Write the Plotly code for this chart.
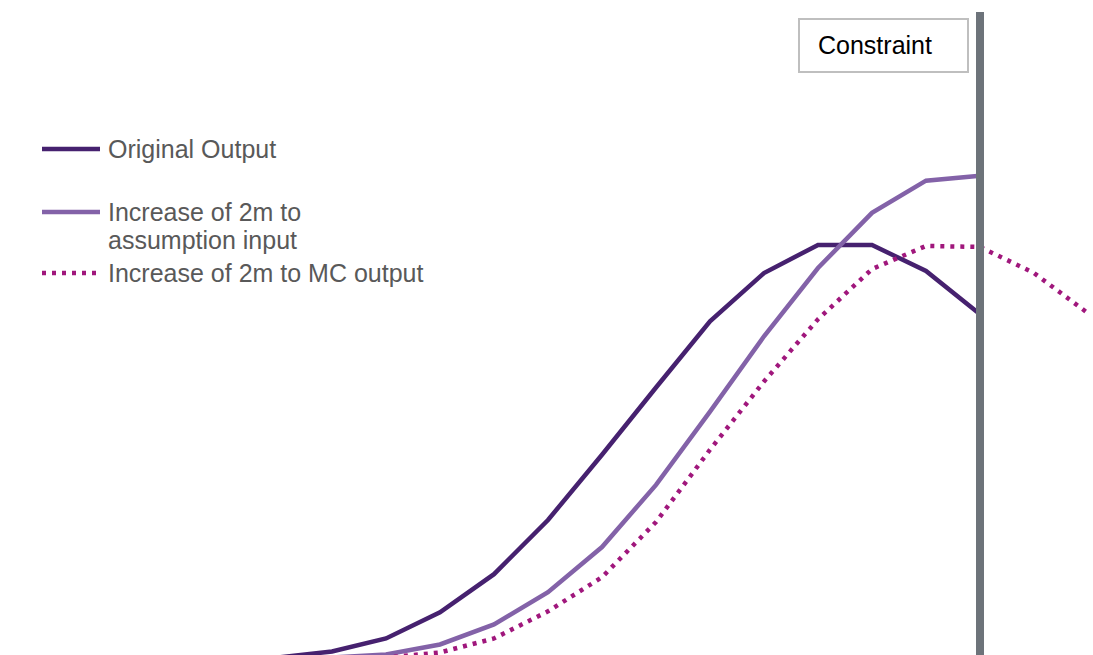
import plotly.graph_objects as go

# Periods along the horizontal axis (unlabelled)
periods = list(range(0, 17))

# Series values (output level per period)
original_output = [0, 0, 1.2, 3.8, 9.0, 16.6, 27.4, 40.4, 53.8, 67.0, 76.6, 82.2, 82.2, 77.0, 68.4]
assumption_input = [0, 0, 0, 0.6, 2.6, 6.6, 13.0, 22.0, 34.4, 49.0, 64.0, 77.6, 88.6, 95.0, 96.0]
mc_output = [0, 0, 0, 0, 1.0, 3.8, 9.2, 16.0, 27.0, 41.4, 55.0, 67.4, 77.4, 82.0, 81.8, 76.6, 68.6]

constraint_period = 14

labels = ["Original Output", "Increase of 2m to<br>assumption input", "Increase of 2m to MC output"]
colors = ["#46216F", "#8362A8", "#A0177C"]

W, H = 1093, 655
FONT = "Liberation Sans, Arial, sans-serif"
LW = 4.5
DOTS = "4px,6px"

fig = go.Figure()
fig.add_trace(go.Scatter(x=periods[:len(original_output)], y=original_output, mode="lines",
                         line=dict(color=colors[0], width=LW), name=labels[0]))
fig.add_trace(go.Scatter(x=periods[:len(assumption_input)], y=assumption_input, mode="lines",
                         line=dict(color=colors[1], width=LW), name=labels[1]))
fig.add_trace(go.Scatter(x=periods[:len(mc_output)], y=mc_output, mode="lines",
                         line=dict(color=colors[2], width=LW, dash=DOTS), name=labels[2]))

# Constraint marker
fig.add_shape(type="line", xref="x", yref="paper", x0=constraint_period, x1=constraint_period,
              y0=0, y1=1 - 12 / H, line=dict(color="#6D737A", width=8))
fig.add_shape(type="rect", xref="paper", yref="paper", x0=799 / W, x1=968 / W,
              y0=1 - 72 / H, y1=1 - 19 / H, line=dict(color="#BFBFBF", width=2),
              fillcolor="white")
fig.add_annotation(xref="paper", yref="paper", x=816 / W, y=1 - 45 / H,
                   text="Constraint", showarrow=False, xanchor="left", yanchor="middle",
                   font=dict(family=FONT, size=25, color="#000000"))

# Hand-placed legend on the left
legend_rows = [149, 212, 273]
dashes = ["solid", "solid", DOTS]
for ypx, col, dash in zip(legend_rows, colors, dashes):
    fig.add_shape(type="line", xref="paper", yref="paper", x0=42 / W, x1=100 / W,
                  y0=1 - ypx / H, y1=1 - ypx / H, line=dict(color=col, width=LW, dash=dash))
text_rows = [(149, "Original Output"), (212, "Increase of 2m to"), (240, "assumption input"),
             (273, "Increase of 2m to MC output")]
for ypx, txt in text_rows:
    fig.add_annotation(xref="paper", yref="paper", x=106 / W, y=1 - ypx / H, text=txt,
                       showarrow=False, xanchor="left", yanchor="middle",
                       font=dict(family=FONT, size=25, color="#595959"))

fig.update_layout(
    width=W, height=H,
    margin=dict(l=0, r=0, t=0, b=0),
    paper_bgcolor="white", plot_bgcolor="white",
    showlegend=False,
    xaxis=dict(range=[-224 / 54, (W - 224) / 54], visible=False),
    yaxis=dict(range=[0.5, 131], visible=False),
)

fig.write_html("out.html")
